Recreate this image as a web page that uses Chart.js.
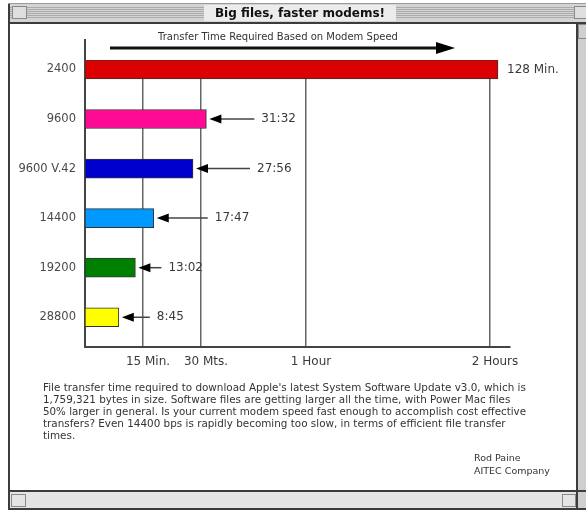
<!DOCTYPE html>
<html>
<head>
<meta charset="utf-8">
<title>Big files, faster modems!</title>
<script src="https://cdn.jsdelivr.net/npm/chart.js@4.4.1/dist/chart.umd.min.js"></script>
<style>
	html, body { margin: 0; padding: 0; background: #fff; }
	canvas { display: block; }
</style>
</head>
<body>
<canvas id="myChart" width="586" height="511"></canvas>
<script>
// modem speeds and download time in minutes
var modems = ["2400", "9600", "9600 V.42", "14400", "19200", "28800"];
var minutes = [128, 31.53, 27.93, 17.78, 13.03, 8.75];
var timeLabels = ["128 Min.", "31:32", "27:56", "17:47", "13:02", "8:45"];
var barColors = ["#dc0000", "#ff0a94", "#0000cc", "#0099ff", "#008000", "#ffff00"];

var tickValues = [15, 30, 60, 120];
var tickLabels = ["15 Min.", "30 Mts.", "1 Hour", "2 Hours"];

var noteLines = [
	"File transfer time required to download Apple's latest System Software Update v3.0, which is",
	"1,759,321 bytes in size. Software files are getting larger all the time, with Power Mac files",
	"50% larger in general. Is your current modem speed fast enough to accomplish cost effective",
	"transfers? Even 14400 bps is rapidly becoming too slow, in terms of efficient file transfer",
	"times."
];
var signature = ["Rod Paine", "AITEC Company"];

// the time axis of the original is not even: value -> share of axis width
var axisBreaks = [[0, 0], [15, 58 / 425], [30, 116 / 425], [60, 221 / 425], [120, 405 / 425], [140, 1]];
// length of the pointer arrows next to the bars
var arrowLengths = [0, 45, 54, 51, 23, 28];

class BrokenScale extends Chart.LinearScale {
	static id = "broken";
	static defaults = {};
	getPixelForValue(value) {
		if (value === null || isNaN(value)) return NaN;
		var i = 1;
		while (i < axisBreaks.length - 1 && value > axisBreaks[i][0]) i++;
		var a = axisBreaks[i - 1], b = axisBreaks[i];
		var t = (value - a[0]) / (b[0] - a[0]);
		return this.getPixelForDecimal(a[1] + t * (b[1] - a[1]));
	}
	getValueForPixel(pixel) {
		var d = this.getDecimalForPixel(pixel);
		var i = 1;
		while (i < axisBreaks.length - 1 && d > axisBreaks[i][1]) i++;
		var a = axisBreaks[i - 1], b = axisBreaks[i];
		return a[0] + (d - a[1]) / (b[1] - a[1]) * (b[0] - a[0]);
	}
}
Chart.register(BrokenScale);

function line(ctx, x0, y0, x1, y1) {
	ctx.beginPath();
	ctx.moveTo(x0, y0);
	ctx.lineTo(x1, y1);
	ctx.stroke();
}

var windowPlugin = {
	id: "macWindow",
	beforeDraw: function(chart) {
		var ctx = chart.ctx;
		ctx.save();
		ctx.fillStyle = "#fff";
		ctx.fillRect(0, 0, 586, 511);

		// title bar with stripes
		ctx.fillStyle = "#d4d4d4";
		ctx.fillRect(9, 4, 577, 18);
		ctx.strokeStyle = "#aaaaaa";
		ctx.lineWidth = 1;
		for (var y = 7.5; y < 19; y += 2) {
			line(ctx, 10, y, 586, y);
		}
		ctx.fillStyle = "#ececec";
		ctx.fillRect(204, 5, 192, 16);
		// close box / zoom box
		ctx.fillStyle = "#dedede";
		ctx.fillRect(12, 6, 15, 13);
		ctx.strokeStyle = "#8a8a8a";
		ctx.strokeRect(12.5, 6.5, 14, 12);
		ctx.fillRect(574, 6, 12, 13);
		ctx.strokeRect(574.5, 6.5, 14, 12);

		ctx.font = "bold 12px 'DejaVu Sans'";
		ctx.fillStyle = "#111";
		ctx.textAlign = "center";
		ctx.textBaseline = "middle";
		ctx.fillText("Big files, faster modems!", 300, 13.5, 182);

		// scroll bars
		ctx.fillStyle = "#e4e4e4";
		ctx.fillRect(10, 492, 568, 16);
		ctx.fillStyle = "#cfcfcf";
		ctx.fillRect(578, 22, 8, 487);
		ctx.strokeStyle = "#8a8a8a";
		ctx.strokeRect(11.5, 494.5, 14, 12);
		ctx.strokeRect(562.5, 494.5, 13, 12);
		ctx.strokeRect(578.5, 24.5, 9, 14);

		// frame
		ctx.fillStyle = "#3c3c3c";
		ctx.fillRect(8, 4, 2, 506);
		ctx.fillRect(8, 22, 578, 2);
		ctx.fillRect(8, 490, 578, 2);
		ctx.fillRect(8, 508, 578, 2);
		ctx.fillRect(576, 22, 2, 488);
		ctx.fillStyle = "#9a9a9a";
		ctx.fillRect(8, 3, 578, 1);
		ctx.restore();
	},
	afterDatasetsDraw: function(chart) {
		var ctx = chart.ctx;
		var meta = chart.getDatasetMeta(0);
		ctx.save();
		ctx.font = "12px 'DejaVu Sans'";
		ctx.textAlign = "left";
		ctx.textBaseline = "middle";
		meta.data.forEach(function(bar, i) {
			var x = bar.x, y = bar.y;
			ctx.fillStyle = "#3a3a3a";
			if (arrowLengths[i] > 0) {
				var x0 = x + 3, x1 = x0 + arrowLengths[i];
				ctx.strokeStyle = "#444";
				ctx.lineWidth = 1.5;
				line(ctx, x0 + 8, y, x1, y);
				ctx.fillStyle = "#000";
				ctx.beginPath();
				ctx.moveTo(x0, y);
				ctx.lineTo(x0 + 12, y - 4.5);
				ctx.lineTo(x0 + 12, y + 4.5);
				ctx.closePath();
				ctx.fill();
				ctx.fillStyle = "#3a3a3a";
				ctx.fillText(timeLabels[i], x1 + 7, y);
			} else {
				ctx.fillText(timeLabels[i], x + 9, y);
			}
		});
		ctx.restore();
	},
	afterDraw: function(chart) {
		var ctx = chart.ctx;
		var area = chart.chartArea;
		ctx.save();
		// y axis runs a bit above the plot
		ctx.strokeStyle = "#444";
		ctx.lineWidth = 2;
		line(ctx, area.left, 39, area.left, area.top + 1);

		// header arrow
		ctx.font = "10px 'DejaVu Sans'";
		ctx.fillStyle = "#333";
		ctx.textAlign = "center";
		ctx.textBaseline = "middle";
		ctx.fillText("Transfer Time Required Based on Modem Speed", 278, 37, 242);
		ctx.strokeStyle = "#111";
		ctx.lineWidth = 3;
		line(ctx, 110, 48, 438, 48);
		ctx.fillStyle = "#000";
		ctx.beginPath();
		ctx.moveTo(455, 48);
		ctx.lineTo(436, 42);
		ctx.lineTo(436, 54);
		ctx.closePath();
		ctx.fill();

		// note under the chart
		ctx.font = "10.4px 'DejaVu Sans'";
		ctx.fillStyle = "#333";
		ctx.textAlign = "left";
		noteLines.forEach(function(t, i) {
			ctx.fillText(t, 43, 388 + i * 12, 483);
		});
		ctx.font = "9.5px 'DejaVu Sans'";
		signature.forEach(function(t, i) {
			ctx.fillText(t, 474, 459 + i * 13);
		});
		ctx.restore();
	}
};

var ctx = document.getElementById("myChart").getContext("2d");
var myChart = new Chart(ctx, {
	type: "bar",
	data: {
		labels: modems,
		datasets: [{
			data: minutes,
			backgroundColor: barColors,
			borderColor: "#333",
			borderWidth: 1,
			borderSkipped: false,
			barThickness: 19
		}]
	},
	options: {
		indexAxis: "y",
		responsive: false,
		devicePixelRatio: 1,
		animation: false,
		layout: {
			padding: { left: 10, top: 60, right: 76, bottom: 140 }
		},
		plugins: {
			legend: { display: false },
			tooltip: { enabled: false }
		},
		scales: {
			x: {
				type: "broken",
				min: 0,
				max: 140,
				afterBuildTicks: function(scale) {
					scale.ticks = tickValues.map(v => ({ value: v }));
				},
				afterFit: function(scale) {
					scale.height = 24;
				},
				grid: { color: "#666", lineWidth: 1.5, drawTicks: false },
				border: { color: "#444", width: 2 },
				ticks: {
					autoSkip: false,
					maxRotation: 0,
					padding: 8,
					labelOffset: 5,
					color: "#3a3a3a",
					font: { family: "DejaVu Sans", size: 12 },
					callback: function(value, index) {
						return tickLabels[index];
					}
				}
			},
			y: {
				// first bar sits close to the top, more room under the last one
				afterBuildTicks: function(scale) {
					scale._startValue = -0.19;
					scale._valueRange = 5.79;
				},
				afterFit: function(scale) {
					scale.width = 75;
				},
				grid: { display: false, drawTicks: false },
				border: { color: "#444", width: 2 },
				ticks: {
					padding: 9,
					color: "#4a4a4a",
					font: { family: "DejaVu Sans", size: 11.5 }
				}
			}
		}
	},
	plugins: [windowPlugin]
});
</script>
</body>
</html>
